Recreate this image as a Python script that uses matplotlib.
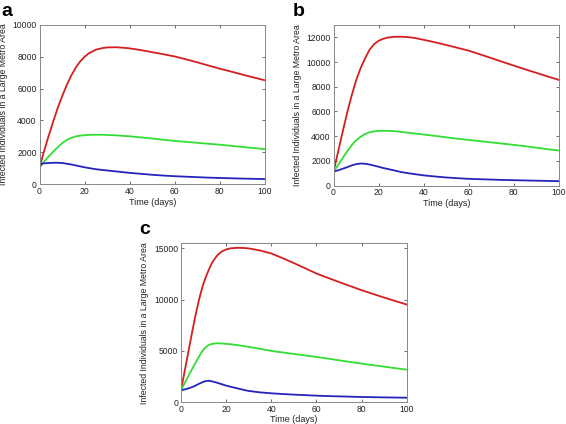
import matplotlib
matplotlib.use("Agg")
import matplotlib.pyplot as plt

plt.rcParams['font.family'] = ['Liberation Sans', 'DejaVu Sans']

# values (days -> infected individuals)
t_a = [0, 1, 2, 4, 6, 8, 10, 12, 14, 16, 18, 20, 22, 25, 28, 30, 34, 38, 40, 45, 50, 55, 60, 65, 70, 75, 80, 85, 90, 95, 100]
red_a = [1050, 1550, 2050, 3000, 3900, 4750, 5500, 6200, 6800, 7300, 7700, 8000, 8230, 8450, 8550, 8590, 8600, 8560, 8530, 8420, 8290, 8160, 8020, 7840, 7650, 7450, 7250, 7070, 6880, 6700, 6520]
green_a = [1050, 1230, 1400, 1720, 2020, 2300, 2560, 2760, 2900, 2990, 3040, 3070, 3090, 3100, 3095, 3085, 3060, 3020, 3000, 2930, 2860, 2780, 2710, 2650, 2590, 2530, 2470, 2400, 2330, 2260, 2190]
blue_a = [1050, 1270, 1300, 1320, 1335, 1335, 1320, 1280, 1230, 1170, 1110, 1050, 1000, 930, 880, 850, 790, 730, 700, 640, 580, 530, 490, 460, 430, 400, 380, 360, 340, 325, 310]

t_b = [0, 1, 2, 4, 6, 8, 10, 12, 14, 16, 18, 20, 22, 24, 27, 30, 33, 36, 40, 45, 50, 55, 60, 65, 70, 75, 80, 85, 90, 95, 100]
red_b = [1100, 1900, 2700, 4300, 5850, 7250, 8500, 9500, 10300, 11000, 11450, 11720, 11880, 11980, 12040, 12050, 12020, 11950, 11800, 11600, 11380, 11150, 10920, 10620, 10320, 10010, 9710, 9410, 9120, 8830, 8550]
green_b = [1100, 1380, 1650, 2200, 2750, 3250, 3650, 3950, 4170, 4310, 4390, 4420, 4430, 4425, 4400, 4340, 4280, 4210, 4130, 4020, 3900, 3790, 3690, 3590, 3490, 3390, 3290, 3180, 3060, 2940, 2830]
blue_b = [1100, 1170, 1230, 1350, 1480, 1620, 1730, 1780, 1760, 1700, 1610, 1520, 1420, 1340, 1220, 1090, 1000, 920, 820, 730, 650, 590, 540, 510, 480, 450, 430, 410, 390, 370, 350]

t_c = [0, 1, 2, 3, 4, 5, 6, 7, 8, 9, 10, 11, 12, 13, 14, 16, 18, 20, 22, 25, 28, 30, 35, 40, 45, 50, 55, 60, 65, 70, 75, 80, 85, 90, 95, 100]
red_c = [1150, 2300, 3450, 4600, 5750, 6900, 8000, 9050, 10000, 10850, 11600, 12200, 12750, 13250, 13700, 14300, 14700, 14900, 15010, 15060, 15040, 15000, 14800, 14510, 14050, 13570, 13060, 12550, 12130, 11720, 11320, 10920, 10560, 10200, 9860, 9520]
green_c = [1150, 1580, 2000, 2420, 2840, 3250, 3650, 4050, 4450, 4820, 5120, 5360, 5530, 5630, 5690, 5730, 5720, 5680, 5640, 5560, 5450, 5380, 5190, 4990, 4840, 4690, 4550, 4400, 4240, 4070, 3910, 3750, 3600, 3450, 3300, 3160]
blue_c = [1150, 1200, 1250, 1310, 1380, 1460, 1560, 1670, 1780, 1880, 1980, 2040, 2070, 2050, 2000, 1880, 1740, 1600, 1490, 1330, 1170, 1080, 940, 850, 780, 720, 670, 620, 580, 550, 520, 490, 470, 450, 435, 420]

ylims = [10000, 13000, 15500]
yticks = [range(0, 10001, 2000), range(0, 12001, 2000), range(0, 15001, 5000)]
panel_labels = ['a', 'b', 'c']

RED = '#d41f1f'
GREEN = '#33dd33'
BLUE = '#2424bb'

fig = plt.figure(figsize=(5.66, 4.24), dpi=100)

boxes = [
    [39.5 / 566, (424 - 184) / 424, 225.5 / 566, 159 / 424],
    [333.5 / 566, (424 - 185.5) / 424, 225.5 / 566, 160.5 / 424],
    [181 / 566, (424 - 402) / 424, 225.7 / 566, 158.7 / 424],
]
series = [
    (t_a, red_a, green_a, blue_a),
    (t_b, red_b, green_b, blue_b),
    (t_c, red_c, green_c, blue_c),
]
label_xy = [(1, 421), (293, 421), (139, 203)]

for box, (t, r, g, b), top, yt, lab, lxy in zip(boxes, series, ylims, yticks, panel_labels, label_xy):
    ax = fig.add_axes(box)
    ax.plot(t, r, color=RED, lw=1.3)
    ax.plot(t, g, color=GREEN, lw=1.3)
    ax.plot(t, b, color=BLUE, lw=1.3)
    ax.set_xlim(0, 100)
    ax.set_ylim(0, top)
    ax.set_xticks([0, 20, 40, 60, 80, 100])
    ax.set_yticks(list(yt))
    ax.tick_params(direction='in', top=True, right=True, length=2.5, width=0.6,
                   labelsize=6.2, colors='#555555', labelcolor='#222222', pad=2)
    for s in ax.spines.values():
        s.set_color('#888888')
        s.set_linewidth(0.7)
    ax.set_xlabel('Time (days)', fontsize=6.5, color='#222222')
    ax.set_ylabel('Infected Individuals in a Large Metro Area', fontsize=6.3, color='#222222')
    ax.xaxis.set_label_coords(0.5, -0.085)
    ax.yaxis.set_label_coords(-0.14, 0.5)
    fig.text(lxy[0] / 566, lxy[1] / 424, lab, fontsize=14, fontweight='bold',
             va='top', ha='left')

fig.savefig('out.png', dpi=100)
